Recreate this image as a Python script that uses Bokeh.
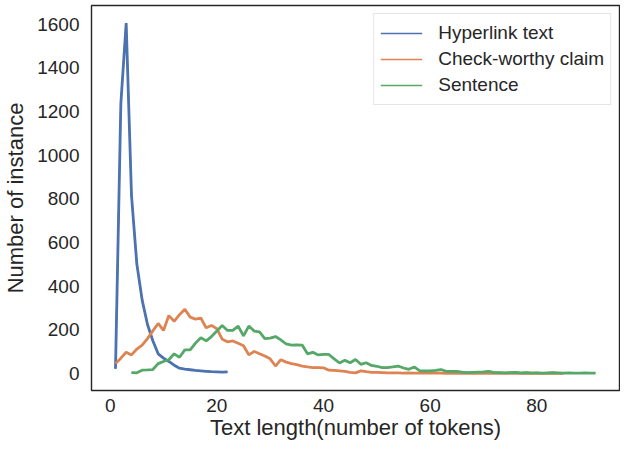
from bokeh.plotting import figure
from bokeh.models import Range1d, FixedTicker, Legend, LegendItem
from bokeh.embed import file_html
from bokeh.resources import INLINE

# Hyperlink text (tokens 1..22)
hyper_x = list(range(1, 23))
hyper_y = [22, 1234, 1605, 815, 501, 336, 224, 150, 90, 70, 55, 38, 24, 20, 17, 14, 12, 10, 8, 7, 6, 7]

# Check-worthy claim (tokens 1..85)
claim_x = list(range(1, 86))
claim_y = [45, 70, 97, 85, 112, 130, 160, 195, 229, 197,
           265, 239, 269, 294, 258, 249, 254, 209, 220, 205,
           157, 145, 149, 138, 127, 85, 101, 90, 80, 67,
           34, 63, 52, 45, 40, 34, 30, 27, 27, 26,
           15, 14, 12, 10, 5, 3, 12, 8, 5, 5,
           4, 3, 3, 3, 2, 3, 2, 2, 3, 2,
           2, 2, 1, 2, 1, 1, 2, 1, 1, 1,
           1, 1, 1, 1, 1, 1, 0, 1, 0, 1,
           0, 0, 1, 0, 0]

# Sentence (tokens 4..91)
sent_x = list(range(4, 92))
sent_y = [4, 3, 15, 16, 18, 45, 55, 63, 90, 74,
          108, 108, 139, 164, 149, 169, 194, 220, 197, 197,
          217, 172, 217, 194, 190, 160, 162, 169, 154, 135,
          130, 131, 130, 90, 97, 85, 87, 87, 67, 48,
          60, 49, 64, 42, 49, 37, 33, 27, 27, 30,
          34, 25, 19, 30, 13, 12, 12, 14, 18, 10,
          9, 9, 6, 4, 5, 6, 7, 10, 4, 4,
          3, 4, 5, 3, 4, 3, 3, 2, 3, 4,
          3, 2, 3, 2, 2, 3, 2, 2]

x_ticks = [0, 20, 40, 60, 80]
y_ticks = [0, 200, 400, 600, 800, 1000, 1200, 1400, 1600]

series_names = ["Hyperlink text", "Check-worthy claim", "Sentence"]
colors = ["#4c72b0", "#dd8452", "#55a868"]
series_x = [hyper_x, claim_x, sent_x]
series_y = [hyper_y, claim_y, sent_y]

FONT = "Liberation Sans"
TXT = "#262626"

p = figure(frame_width=528, frame_height=385, output_backend="svg", toolbar_location=None,
           x_range=Range1d(-3.5, 95.5), y_range=Range1d(-78, 1685),
           min_border_left=83, min_border_right=1, min_border_top=5, min_border_bottom=50)

p.outline_line_color = TXT
p.outline_line_width = 1.4
p.xgrid.visible = False
p.ygrid.visible = False
p.background_fill_color = "white"

# thin proxies (used for the legend glyphs), hidden under the thick lines
proxies = [p.line(x, y, line_color=c, line_width=1.5) for x, y, c in zip(series_x, series_y, colors)]
for x, y, c in zip(series_x, series_y, colors):
    p.line(x, y, line_color=c, line_width=2.8)

legend = Legend(items=[LegendItem(label=n, renderers=[r]) for n, r in zip(series_names, proxies)],
                location="top_right")
legend.label_text_font = FONT
legend.label_text_font_size = "19px"
legend.label_text_color = TXT
legend.label_height = 26
legend.glyph_height = 26
legend.glyph_width = 42
legend.label_standoff = 16
legend.padding = 6
legend.spacing = 0
legend.margin = 8
legend.border_line_color = "#cccccc"
legend.border_line_width = 1
legend.background_fill_alpha = 0.8
p.add_layout(legend)

for ax in (p.xaxis, p.yaxis):
    ax.axis_line_color = None
    ax.major_tick_line_color = None
    ax.minor_tick_line_color = None
    ax.major_tick_out = 0
    ax.major_tick_in = 0
    ax.minor_tick_out = 0
    ax.minor_tick_in = 0
    ax.major_label_text_font = FONT
    ax.major_label_text_font_size = "19px"
    ax.major_label_text_color = TXT
    ax.axis_label_text_font = FONT
    ax.axis_label_text_font_size = "22px"
    ax.axis_label_text_font_style = "normal"
    ax.axis_label_text_color = TXT

p.xaxis.ticker = FixedTicker(ticks=x_ticks)
p.yaxis.ticker = FixedTicker(ticks=y_ticks)
p.xaxis.axis_label = "Text length(number of tokens)"
p.yaxis.axis_label = "Number of instance"
p.xaxis.major_label_standoff = 8
p.yaxis.major_label_standoff = 12
p.xaxis.axis_label_standoff = 0
p.yaxis.axis_label_standoff = 6

open("out.html", "w").write(file_html(p, INLINE))
